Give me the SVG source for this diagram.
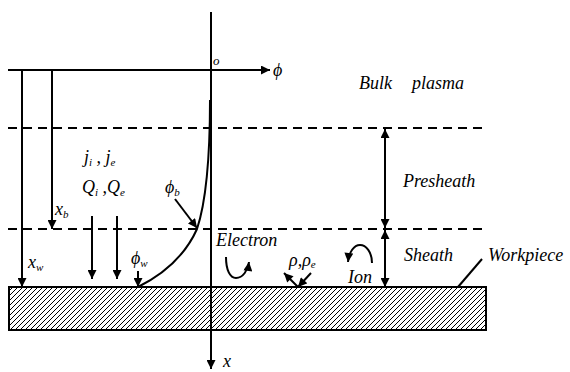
<svg xmlns="http://www.w3.org/2000/svg" width="570" height="372" viewBox="0 0 570 372">
<rect width="570" height="372" fill="#fff"/>
<defs>
<marker id="ah" viewBox="0 0 10 10" refX="10" refY="5" markerWidth="10" markerHeight="9" markerUnits="userSpaceOnUse" orient="auto-start-reverse">
<path d="M0,0 L10,5 L0,10 Z" fill="#000"/>
</marker>
<pattern id="hatch" patternUnits="userSpaceOnUse" width="5" height="5">
<path d="M-1,1 L1,-1 M0,5 L5,0 M4,6 L6,4" stroke="#000" stroke-width="1"/>
</pattern>
</defs>
<g id="workpiece">
<rect x="9" y="287" width="477" height="43" fill="url(#hatch)" stroke="#000" stroke-width="2"/>
</g>
<g id="connectors" stroke="#000" stroke-width="2" fill="none">
<line stroke-dasharray="9 6" x1="8" y1="128" x2="487" y2="128"/>
<line stroke-dasharray="9 6" x1="8" y1="229" x2="487" y2="229"/>
<line x1="8" y1="70" x2="270" y2="70" marker-end="url(#ah)"/>
<line x1="211" y1="12" x2="211" y2="369" marker-end="url(#ah)"/>
<line x1="22" y1="70" x2="22" y2="287" marker-end="url(#ah)"/>
<line x1="52" y1="70" x2="52" y2="229" marker-end="url(#ah)"/>
<line x1="92" y1="216" x2="92" y2="279" marker-end="url(#ah)"/>
<line x1="117" y1="216" x2="117" y2="279" marker-end="url(#ah)"/>
<line x1="138" y1="271" x2="138" y2="287" marker-end="url(#ah)"/>
<path d="M210,100 C210,170 205,205 197,229 C184,258 162,275 138,287"/>
<line x1="175" y1="199" x2="197" y2="228" marker-end="url(#ah)"/>
<line x1="385" y1="129" x2="385" y2="228" marker-start="url(#ah)" marker-end="url(#ah)"/>
<line x1="385" y1="230" x2="385" y2="287" marker-start="url(#ah)" marker-end="url(#ah)"/>
<line x1="458" y1="287" x2="482" y2="259"/>
<path d="M226,257 C226,270 230,278 236,278 C243,278 248,270 249,262" marker-end="url(#ah)"/>
<path d="M372,263 C372,252 366,245 360,245 C354,245 349,252 348,262" marker-end="url(#ah)"/>
<line x1="298" y1="287" x2="284" y2="273" marker-end="url(#ah)"/>
<line x1="311" y1="273" x2="298" y2="287" marker-end="url(#ah)"/>
</g>
<g id="labels">
<text x="213" y="65" font-family="Liberation Serif" font-style="italic" font-size="13">o</text>
<text x="273" y="76" font-family="Liberation Serif" font-style="italic" font-size="18">ϕ</text>
<text x="223" y="367" font-family="Liberation Serif" font-style="italic" font-size="18">x</text>
<text x="359" y="89" font-family="Liberation Serif" font-style="italic" font-size="18">Bulk</text>
<text x="412" y="89" font-family="Liberation Serif" font-style="italic" font-size="18">plasma</text>
<text x="403" y="187" font-family="Liberation Serif" font-style="italic" font-size="18">Presheath</text>
<text x="404" y="261" font-family="Liberation Serif" font-style="italic" font-size="18">Sheath</text>
<text x="488" y="261" font-family="Liberation Serif" font-style="italic" font-size="18">Workpiece</text>
<text x="216" y="246" font-family="Liberation Serif" font-style="italic" font-size="18">Electron</text>
<text x="348" y="283" font-family="Liberation Serif" font-style="italic" font-size="18">Ion</text>
<text x="289" y="266" font-family="Liberation Serif" font-style="italic" font-size="18">ρ,ρ<tspan font-size="11" dy="2">e</tspan></text>
<text x="84" y="163" font-family="Liberation Serif" font-style="italic" font-size="18">j<tspan font-size="11" dy="3">i</tspan><tspan dy="-3"> , j</tspan><tspan font-size="11" dy="3">e</tspan></text>
<text x="82" y="193" font-family="Liberation Serif" font-style="italic" font-size="18">Q<tspan font-size="11" dy="3">i</tspan><tspan dy="-3"> ,Q</tspan><tspan font-size="11" dy="3">e</tspan></text>
<text x="55" y="215" font-family="Liberation Serif" font-style="italic" font-size="18">x<tspan font-size="11" dy="3">b</tspan></text>
<text x="28" y="268" font-family="Liberation Serif" font-style="italic" font-size="18">x<tspan font-size="11" dy="3">w</tspan></text>
<text x="165" y="193" font-family="Liberation Serif" font-style="italic" font-size="18">ϕ<tspan font-size="11" dy="3">b</tspan></text>
<text x="131" y="264" font-family="Liberation Serif" font-style="italic" font-size="18">ϕ<tspan font-size="11" dy="3">w</tspan></text>
</g>
</svg>
